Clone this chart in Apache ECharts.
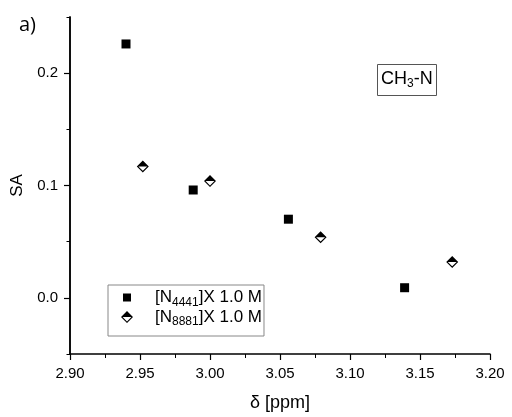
<!DOCTYPE html>
<html>
<head>
<meta charset="utf-8">
<script src="https://cdn.jsdelivr.net/npm/echarts@6/dist/echarts.min.js"></script>
<style>
  html, body { margin: 0; padding: 0; background: #fff; }
  #chart { width: 512px; height: 417px; }
</style>
</head>
<body>
<div id="chart"></div>
<script>
// data
const shift4441 = [2.940, 2.988, 3.056, 3.139];
const sa4441 = [0.226, 0.096, 0.070, 0.009];
const shift8881 = [2.952, 3.000, 3.079, 3.173];
const sa8881 = [0.117, 0.104, 0.054, 0.032];

const yMajor = [0, 0.1, 0.2];
const yMinor = [-0.05, 0.05, 0.15, 0.25];

// half filled diamond (top black, bottom open)
const halfDiamond = 'path://M0,6L6,0L12,6Z M0,6L6,12L12,6L10.4,6L6,10.4L1.6,6Z';
// smaller square for the legend (tiny corner specks keep the 12px box)
const legendSquare = 'path://M0,0L0.01,0.01L0,0.01Z M2,2L10,2L10,10L2,10Z M12,12L11.99,11.99L12,11.99Z';

const font = 'Liberation Sans, Arial, sans-serif';

const myChart = echarts.init(document.getElementById('chart'));

const axisLine = { show: true, onZero: false, lineStyle: { color: '#000', width: 1.5 } };

const option = {
    backgroundColor: '#fff',
    animation: false,
    title: {
        text: '{a|CH}{s|3}{a|-N}',
        left: 377,
        top: 63,
        padding: [6, 4, 6, 4],
        borderColor: '#555',
        borderWidth: 1,
        textStyle: {
            rich: {
                a: { fontFamily: font, fontSize: 18, fontWeight: 'normal', color: '#000', lineHeight: 21 },
                s: { fontFamily: font, fontSize: 12, fontWeight: 'normal', color: '#000', verticalAlign: 'bottom', lineHeight: 11 }
            }
        }
    },
    graphic: [
        {
            type: 'text',
            left: 19,
            top: 15,
            style: { text: 'a)', fontFamily: 'Open Sans, sans-serif', fontSize: 20, fill: '#000' }
        }
    ],
    legend: {
        orient: 'vertical',
        left: 108,
        top: 285,
        padding: [4, 2, 8, 13],
        itemGap: 0,
        itemWidth: 12,
        itemHeight: 12,
        borderColor: '#888',
        borderWidth: 1,
        data: [
            { name: 'N4441', icon: legendSquare, itemStyle: { color: '#000' } },
            { name: 'N8881', icon: halfDiamond, itemStyle: { color: '#000' } }
        ],
        formatter: function (name) {
            return name === 'N4441' ? '{a|[N}{s|4441}{a|]X 1.0 M}' : '{a|[N}{s|8881}{a|]X 1.0 M}';
        },
        textStyle: {
            padding: [0, 0, 0, 17],
            rich: {
                a: { fontFamily: font, fontSize: 17, color: '#000', lineHeight: 22 },
                s: { fontFamily: font, fontSize: 12, color: '#000', verticalAlign: 'bottom', lineHeight: 11 }
            }
        }
    },
    grid: { left: 70, right: 22, top: 17, bottom: 61 },
    xAxis: {
        type: 'value',
        min: 2.9,
        max: 3.2,
        interval: 0.05,
        name: 'δ [ppm]',
        nameLocation: 'middle',
        nameGap: 40,
        nameTextStyle: { fontFamily: font, fontSize: 18, color: '#000' },
        axisLine: axisLine,
        axisTick: { length: 6, lineStyle: { color: '#000', width: 1.2 } },
        minorTick: { show: true, splitNumber: 2, length: 4, lineStyle: { color: '#000', width: 1 } },
        axisLabel: {
            margin: 12,
            fontFamily: font,
            fontSize: 15,
            color: '#000',
            formatter: v => v.toFixed(2)
        },
        splitLine: { show: false }
    },
    yAxis: [
        {
            type: 'value',
            min: -0.05,
            max: 0.25,
            axisLine: axisLine,
            axisTick: { customValues: yMinor, length: 3.5, lineStyle: { color: '#000', width: 1 } },
            axisLabel: { show: false },
            splitLine: { show: false }
        },
        {
            type: 'value',
            position: 'left',
            min: -0.05,
            max: 0.25,
            name: 'SA',
            nameLocation: 'middle',
            nameGap: 44,
            nameRotate: 90,
            nameTextStyle: { fontFamily: font, fontSize: 17, color: '#000' },
            axisLine: axisLine,
            axisTick: { customValues: yMajor, length: 6, lineStyle: { color: '#000', width: 1.2 } },
            axisLabel: {
                customValues: yMajor,
                margin: 12,
                fontFamily: font,
                fontSize: 15,
                color: '#000',
                formatter: v => v.toFixed(1)
            },
            splitLine: { show: false }
        }
    ],
    series: [
        {
            name: 'N4441',
            type: 'scatter',
            yAxisIndex: 0,
            symbol: 'rect',
            symbolSize: 9,
            itemStyle: { color: '#000', opacity: 1 },
            data: shift4441.map((x, i) => [x, sa4441[i]])
        },
        {
            name: 'N8881',
            type: 'scatter',
            yAxisIndex: 0,
            symbol: halfDiamond,
            symbolSize: 12,
            itemStyle: { color: '#000', opacity: 1 },
            data: shift8881.map((x, i) => [x, sa8881[i]])
        }
    ]
};

myChart.setOption(option);
</script>
</body>
</html>
